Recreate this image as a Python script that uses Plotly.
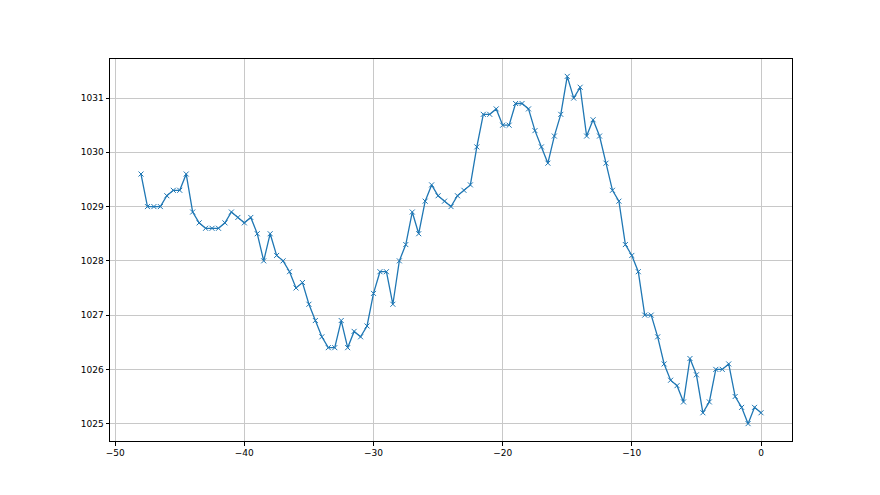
import numpy as np
import plotly.graph_objects as go

hours = [-48 + 0.5 * i for i in range(97)]
pressure = [
    1029.6, 1029.0, 1029.0, 1029.0, 1029.2, 1029.3, 1029.3, 1029.6, 1028.9, 1028.7,
    1028.6, 1028.6, 1028.6, 1028.7, 1028.9, 1028.8, 1028.7, 1028.8, 1028.5, 1028.0,
    1028.5, 1028.1, 1028.0, 1027.8, 1027.5, 1027.6, 1027.2, 1026.9, 1026.6, 1026.4,
    1026.4, 1026.9, 1026.4, 1026.7, 1026.6, 1026.8, 1027.4, 1027.8, 1027.8, 1027.2,
    1028.0, 1028.3, 1028.9, 1028.5, 1029.1, 1029.4, 1029.2, 1029.1, 1029.0, 1029.2,
    1029.3, 1029.4, 1030.1, 1030.7, 1030.7, 1030.8, 1030.5, 1030.5, 1030.9, 1030.9,
    1030.8, 1030.4, 1030.1, 1029.8, 1030.3, 1030.7, 1031.4, 1031.0, 1031.2, 1030.3,
    1030.6, 1030.3, 1029.8, 1029.3, 1029.1, 1028.3, 1028.1, 1027.8, 1027.0, 1027.0,
    1026.6, 1026.1, 1025.8, 1025.7, 1025.4, 1026.2, 1025.9, 1025.2, 1025.4, 1026.0,
    1026.0, 1026.1, 1025.5, 1025.3, 1025.0, 1025.3, 1025.2,
]

fig = go.Figure()
fig.add_trace(go.Scatter(
    x=hours, y=pressure, mode="lines+markers",
    line=dict(color="#1f77b4", width=1.3),
    marker=dict(symbol="x-thin", size=5, color="#1f77b4",
                line=dict(color="#1f77b4", width=1)),
))

axis_common = dict(
    showgrid=True, gridcolor="#c8c8c8", gridwidth=0.8,
    showline=True, linecolor="black", linewidth=1, mirror=True,
    ticks="outside", ticklen=3.5, tickcolor="black", tickwidth=0.8,
    zeroline=False, tickfont=dict(family="DejaVu Sans", size=9, color="black"),
)
fig.update_xaxes(range=[-50.4, 2.4], tickvals=[-50, -40, -30, -20, -10, 0],
                 ticktext=["\u221250", "\u221240", "\u221230", "\u221220", "\u221210", "0"],
                 **axis_common)
fig.update_yaxes(range=[1024.68, 1031.72], tickvals=list(range(1025, 1032)), **axis_common)
fig.update_layout(
    width=880, height=495, showlegend=False,
    margin=dict(l=102, r=96, t=51, b=62),
    plot_bgcolor="white", paper_bgcolor="white",
)
fig.write_html("out.html")
